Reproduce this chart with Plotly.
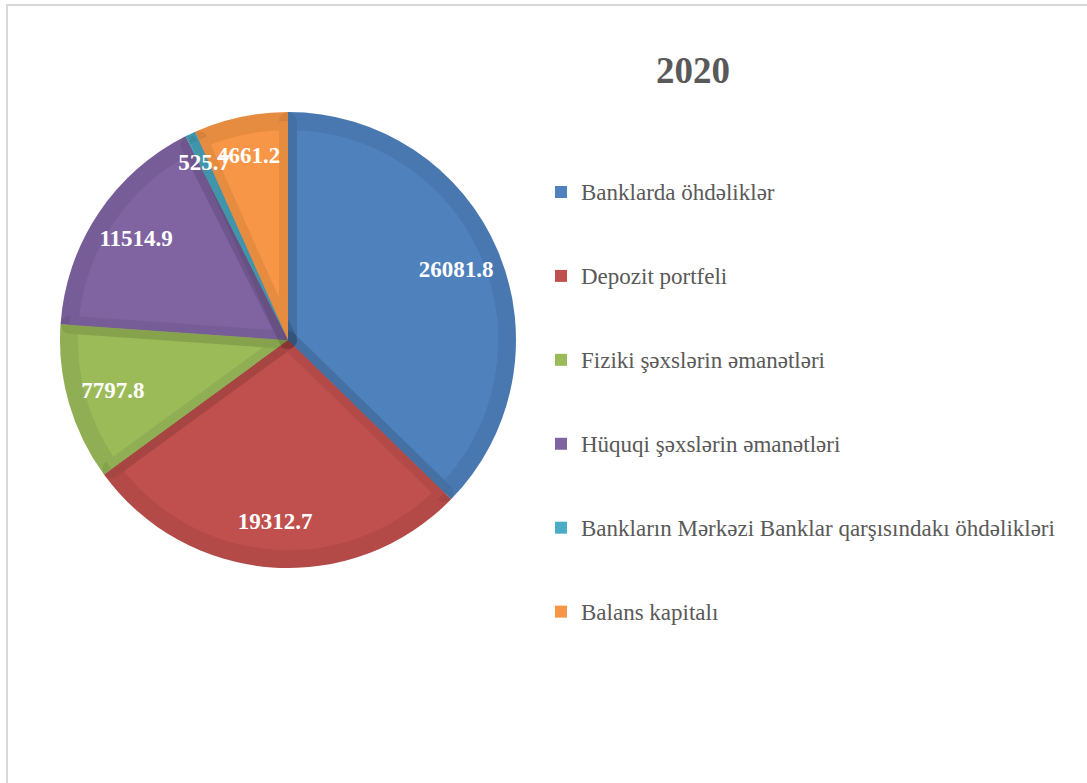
import plotly.graph_objects as go

labels = [
    "Banklarda öhdəliklər",
    "Depozit portfeli",
    "Fiziki şəxslərin əmanətləri",
    "Hüquqi şəxslərin əmanətləri",
    "Bankların Mərkəzi Banklar qarşısındakı öhdəlikləri",
    "Balans kapitalı",
]
values = [26081.8, 19312.7, 7797.8, 11514.9, 525.7, 4661.2]
colors = ["#4F81BD", "#C0504D", "#9BBB59", "#8064A2", "#4BACC6", "#F79646"]
title_text = "2020"

W, H = 1087, 783
cx, cy, R = 288, 340, 228
band = 18

def dom(r):
    return dict(x=[(cx - r) / W, (cx + r) / W], y=[1 - (cy + r) / H, 1 - (cy - r) / H])

serif = "Liberation Serif, Times New Roman, serif"
leg_labels = ['<span style="font-size:23px">' + l + "</span><br> <br> " for l in labels]

common = dict(labels=leg_labels, values=values, sort=False, direction="clockwise", rotation=0)

total = sum(values)
small = [v / total < 0.02 for v in values]
tmpl_big = ["" if s else "<b>%{value:.1f}</b>" for s in small]
tmpl_small = ["<b>%{value:.1f}</b>" if s else "" for s in small]

fig = go.Figure()
# base (legend) pie
fig.add_trace(go.Pie(
    **common,
    marker=dict(colors=colors, line=dict(width=0)), textinfo="none", hoverinfo="skip",
    domain=dom(R), showlegend=True,
))
# top pie giving the bevelled band
fig.add_trace(go.Pie(
    **common,
    marker=dict(colors=colors, line=dict(width=band, color="rgba(0,0,0,0.065)")),
    textinfo="none", hoverinfo="skip",
    domain=dom(R - band / 2), showlegend=False,
))
# transparent rings carrying the data labels
clear = dict(colors=["rgba(0,0,0,0)"] * len(values), line=dict(width=0))
lbl = dict(textposition="inside", insidetextorientation="horizontal",
           textfont=dict(family=serif, size=23, color="white"), showlegend=False, hoverinfo="skip")
fig.add_trace(go.Pie(**common, hole=0.6, marker=clear, texttemplate=tmpl_big, domain=dom(R), **lbl))
fig.add_trace(go.Pie(**common, hole=0.78, marker=clear, texttemplate=tmpl_small, domain=dom(R * 0.88), **lbl))

fig.add_annotation(text="<b>" + title_text + "</b>", x=693 / W, y=1 - 70 / H, xref="paper", yref="paper",
                   xanchor="center", yanchor="middle", showarrow=False,
                   font=dict(family=serif, size=37, color="#595959"))

fig.add_shape(type="rect", xref="paper", yref="paper", x0=7 / W, x1=1.05, y0=-0.05, y1=1 - 5 / H,
              line=dict(color="#D9D9D9", width=2), fillcolor="rgba(0,0,0,0)", layer="below")

fig.update_layout(
    width=W, height=H, margin=dict(l=0, r=0, t=0, b=0),
    paper_bgcolor="white", plot_bgcolor="white",
    uniformtext=dict(minsize=23, mode="show"),
    legend=dict(x=541 / W, xanchor="left", y=1 - 172 / H, yanchor="top", valign="top",
                font=dict(family=serif, size=20.75, color="#595959"), bgcolor="rgba(0,0,0,0)"),
)

fig.write_html("out.html")
